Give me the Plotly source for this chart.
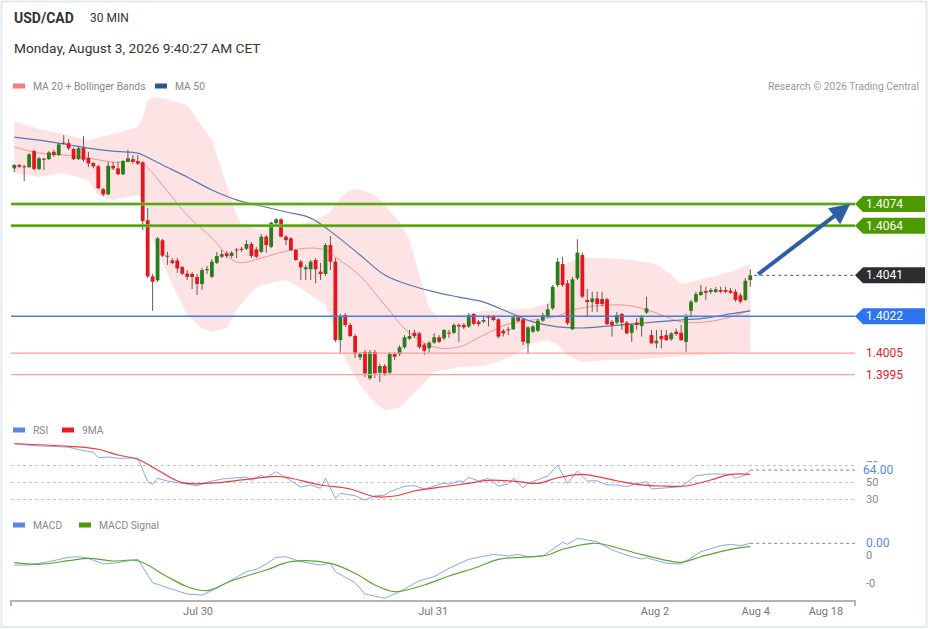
import plotly.graph_objects as go

W, H = 929, 629

# USD/CAD 30 min candles, oldest first
open_ = [1.40905, 1.40921, 1.40913, 1.40911, 1.40985, 1.40902, 1.40950, 1.40948, 1.40982, 1.40967,
         1.41022, 1.41022, 1.40995, 1.40948, 1.40999, 1.40954, 1.40930, 1.40915, 1.40809, 1.40785,
         1.40917, 1.40905, 1.40878, 1.40936, 1.40948, 1.40939, 1.40933, 1.40665, 1.40405, 1.40387,
         1.40572, 1.40498, 1.40479, 1.40479, 1.40448, 1.40418, 1.40416, 1.40402, 1.40370, 1.40434,
         1.40403, 1.40468, 1.40496, 1.40512, 1.40499, 1.40527, 1.40530, 1.40533, 1.40555, 1.40530,
         1.40519, 1.40589, 1.40542, 1.40651, 1.40669, 1.40589, 1.40581, 1.40527, 1.40473, 1.40438,
         1.40438, 1.40481, 1.40427, 1.40416, 1.40550, 1.40473, 1.40110, 1.40226, 1.40180, 1.40129,
         1.40030, 1.40055, 1.39933, 1.40055, 1.39959, 1.39990, 1.39959, 1.40045, 1.40045, 1.40077,
         1.40116, 1.40144, 1.40141, 1.40089, 1.40072, 1.40098, 1.40123, 1.40118, 1.40143, 1.40144,
         1.40180, 1.40180, 1.40173, 1.40231, 1.40195, 1.40195, 1.40215, 1.40221, 1.40206, 1.40153,
         1.40157, 1.40160, 1.40215, 1.40206, 1.40095, 1.40149, 1.40153, 1.40200, 1.40221, 1.40257,
         1.40365, 1.40462, 1.40373, 1.40160, 1.40396, 1.40504, 1.40296, 1.40286, 1.40303, 1.40300,
         1.40299, 1.40195, 1.40191, 1.40231, 1.40191, 1.40144, 1.40191, 1.40175, 1.40237, 1.40133,
         1.40095, 1.40129, 1.40133, 1.40114, 1.40149, 1.40144, 1.40102, 1.40246, 1.40288, 1.40319,
         1.40337, 1.40333, 1.40333, 1.40342, 1.40342, 1.40339, 1.40334, 1.40317, 1.40296, 1.40388]
high = [1.40925, 1.40925, 1.40921, 1.40976, 1.40991, 1.40958, 1.40953, 1.40985, 1.40991, 1.41022,
        1.41059, 1.41041, 1.41001, 1.41005, 1.41055, 1.40982, 1.40934, 1.40921, 1.40814, 1.40936,
        1.40936, 1.40936, 1.40944, 1.40991, 1.40967, 1.40967, 1.40939, 1.40721, 1.40416, 1.40587,
        1.40578, 1.40519, 1.40490, 1.40490, 1.40453, 1.40434, 1.40425, 1.40416, 1.40444, 1.40453,
        1.40485, 1.40518, 1.40527, 1.40522, 1.40522, 1.40536, 1.40541, 1.40573, 1.40564, 1.40541,
        1.40601, 1.40596, 1.40658, 1.40674, 1.40674, 1.40596, 1.40587, 1.40532, 1.40481, 1.40458,
        1.40481, 1.40490, 1.40467, 1.40559, 1.40592, 1.40490, 1.40231, 1.40235, 1.40189, 1.40138,
        1.40055, 1.40064, 1.40064, 1.40064, 1.39999, 1.39999, 1.40055, 1.40055, 1.40087, 1.40133,
        1.40157, 1.40157, 1.40147, 1.40096, 1.40105, 1.40142, 1.40133, 1.40160, 1.40157, 1.40188,
        1.40188, 1.40189, 1.40234, 1.40234, 1.40203, 1.40221, 1.40226, 1.40226, 1.40212, 1.40161,
        1.40172, 1.40221, 1.40226, 1.40212, 1.40175, 1.40180, 1.40208, 1.40237, 1.40277, 1.40365,
        1.40490, 1.40496, 1.40388, 1.40402, 1.40577, 1.40515, 1.40346, 1.40334, 1.40334, 1.40334,
        1.40305, 1.40203, 1.40241, 1.40235, 1.40198, 1.40189, 1.40211, 1.40226, 1.40311, 1.40157,
        1.40157, 1.40157, 1.40157, 1.40147, 1.40164, 1.40180, 1.40231, 1.40296, 1.40334, 1.40365,
        1.40357, 1.40351, 1.40356, 1.40357, 1.40357, 1.40351, 1.40346, 1.40328, 1.40397, 1.40438]
low = [1.40887, 1.40907, 1.40846, 1.40907, 1.40897, 1.40897, 1.40897, 1.40944, 1.40958, 1.40962,
       1.41016, 1.40990, 1.40944, 1.40944, 1.40936, 1.40911, 1.40905, 1.40809, 1.40776, 1.40782,
       1.40897, 1.40874, 1.40874, 1.40934, 1.40927, 1.40921, 1.40620, 1.40397, 1.40245, 1.40379,
       1.40495, 1.40458, 1.40462, 1.40421, 1.40411, 1.40388, 1.40346, 1.40319, 1.40342, 1.40416,
       1.40397, 1.40462, 1.40490, 1.40490, 1.40490, 1.40490, 1.40518, 1.40527, 1.40490, 1.40490,
       1.40513, 1.40515, 1.40536, 1.40643, 1.40587, 1.40550, 1.40522, 1.40476, 1.40388, 1.40388,
       1.40388, 1.40374, 1.40388, 1.40407, 1.40434, 1.40101, 1.40045, 1.40171, 1.40124, 1.40027,
       1.40018, 1.39940, 1.39925, 1.39934, 1.39917, 1.39944, 1.39953, 1.40018, 1.40036, 1.40069,
       1.40110, 1.40120, 1.40069, 1.40041, 1.40052, 1.40092, 1.40096, 1.40110, 1.40120, 1.40138,
       1.40102, 1.40161, 1.40166, 1.40178, 1.40173, 1.40189, 1.40173, 1.40198, 1.40118, 1.40126,
       1.40133, 1.40157, 1.40194, 1.40087, 1.40045, 1.40143, 1.40147, 1.40194, 1.40212, 1.40249,
       1.40356, 1.40356, 1.40180, 1.40157, 1.40388, 1.40305, 1.40221, 1.40241, 1.40241, 1.40265,
       1.40180, 1.40126, 1.40184, 1.40157, 1.40138, 1.40102, 1.40157, 1.40126, 1.40231, 1.40092,
       1.40072, 1.40072, 1.40106, 1.40106, 1.40129, 1.40106, 1.40056, 1.40215, 1.40282, 1.40314,
       1.40296, 1.40324, 1.40328, 1.40327, 1.40327, 1.40324, 1.40288, 1.40280, 1.40291, 1.40357]
close = [1.40921, 1.40913, 1.40910, 1.40970, 1.40902, 1.40952, 1.40945, 1.40979, 1.40967, 1.41016,
         1.41019, 1.40998, 1.40948, 1.40998, 1.40945, 1.40928, 1.40915, 1.40813, 1.40785, 1.40917,
         1.40905, 1.40878, 1.40939, 1.40952, 1.40936, 1.40927, 1.40661, 1.40405, 1.40380, 1.40581,
         1.40501, 1.40496, 1.40467, 1.40442, 1.40417, 1.40403, 1.40402, 1.40370, 1.40434, 1.40437,
         1.40473, 1.40499, 1.40508, 1.40499, 1.40515, 1.40525, 1.40528, 1.40555, 1.40499, 1.40496,
         1.40589, 1.40550, 1.40653, 1.40669, 1.40589, 1.40573, 1.40527, 1.40481, 1.40447, 1.40447,
         1.40473, 1.40438, 1.40416, 1.40550, 1.40473, 1.40110, 1.40218, 1.40180, 1.40129, 1.40045,
         1.40045, 1.39956, 1.40055, 1.39956, 1.39990, 1.39956, 1.40045, 1.40033, 1.40077, 1.40123,
         1.40129, 1.40129, 1.40077, 1.40061, 1.40098, 1.40123, 1.40102, 1.40157, 1.40140, 1.40180,
         1.40173, 1.40169, 1.40226, 1.40185, 1.40184, 1.40203, 1.40213, 1.40203, 1.40126, 1.40141,
         1.40155, 1.40215, 1.40199, 1.40102, 1.40169, 1.40173, 1.40200, 1.40226, 1.40252, 1.40357,
         1.40473, 1.40365, 1.40188, 1.40391, 1.40515, 1.40311, 1.40286, 1.40303, 1.40277, 1.40277,
         1.40184, 1.40180, 1.40226, 1.40191, 1.40141, 1.40180, 1.40180, 1.40215, 1.40257, 1.40095,
         1.40107, 1.40114, 1.40110, 1.40141, 1.40138, 1.40110, 1.40221, 1.40288, 1.40323, 1.40334,
         1.40329, 1.40342, 1.40345, 1.40334, 1.40334, 1.40329, 1.40296, 1.40288, 1.40385, 1.40410]

# overlays, read at sampled candle positions
bb_up_idx = [0, 5, 10, 15, 20, 25, 26, 27, 28, 30, 35, 40, 42, 44, 45, 46, 50, 55, 60, 63, 64, 65, 66,
             68, 70, 73, 75, 78, 80, 82, 84, 86, 90, 95, 100, 105, 108, 110, 112, 115, 120, 125, 130,
             133, 135, 137, 140, 145, 149]
bb_up = [1.41124, 1.41087, 1.41064, 1.41036, 1.41064, 1.41097, 1.41138, 1.41222, 1.41235, 1.41231,
         1.41198, 1.41036, 1.40897, 1.40759, 1.40689, 1.40643, 1.40620, 1.40634, 1.40657, 1.40689,
         1.40703, 1.40735, 1.40768, 1.40805, 1.40809, 1.40782, 1.40735, 1.40657, 1.40573, 1.40411,
         1.40258, 1.40212, 1.40226, 1.40245, 1.40249, 1.40258, 1.40282, 1.40365, 1.40471, 1.40490,
         1.40490, 1.40481, 1.40462, 1.40411, 1.40370, 1.40379, 1.40397, 1.40425, 1.40462]
bb_lo_idx = [0, 5, 10, 15, 17, 20, 25, 26, 27, 28, 30, 32, 35, 38, 40, 43, 45, 48, 50, 55, 58, 60,
             63, 65, 67, 70, 73, 75, 78, 80, 83, 85, 90, 95, 100, 103, 105, 108, 110, 112, 115, 120,
             125, 130, 135, 140, 145, 149]
bb_lo = [1.40884, 1.40865, 1.40884, 1.40851, 1.40782, 1.40759, 1.40782, 1.40768, 1.40689, 1.40573,
         1.40471, 1.40365, 1.40226, 1.40166, 1.40147, 1.40166, 1.40249, 1.40333, 1.40365, 1.40388,
         1.40351, 1.40319, 1.40272, 1.40157, 1.40018, 1.39902, 1.39819, 1.39786, 1.39795, 1.39842,
         1.39911, 1.39962, 1.39985, 1.39990, 1.40027, 1.40064, 1.40096, 1.40110, 1.40087, 1.40041,
         1.40008, 1.40018, 1.40018, 1.40027, 1.40036, 1.40041, 1.40050, 1.40055]
ma20_idx = [0, 5, 10, 15, 20, 25, 27, 30, 35, 40, 45, 50, 55, 60, 63, 65, 70, 75, 80, 85, 90, 95,
            100, 105, 110, 113, 120, 125, 130, 135, 140, 145, 149]
ma20 = [1.41004, 1.40976, 1.40967, 1.40953, 1.40934, 1.40934, 1.40907, 1.40828, 1.40689, 1.40583,
        1.40471, 1.40490, 1.40522, 1.40536, 1.40527, 1.40495, 1.40407, 1.40272, 1.40143, 1.40078,
        1.40078, 1.40133, 1.40184, 1.40203, 1.40221, 1.40249, 1.40272, 1.40268, 1.40235, 1.40194,
        1.40194, 1.40217, 1.40249]
ma50_idx = [0, 5, 10, 15, 20, 25, 26, 30, 35, 40, 45, 50, 55, 60, 65, 70, 75, 80, 85, 90, 95, 100,
            105, 110, 115, 120, 125, 130, 135, 140, 145, 149]
ma50 = [1.41050, 1.41036, 1.41018, 1.40999, 1.40985, 1.40976, 1.40967, 1.40921, 1.40865, 1.40805,
        1.40759, 1.40731, 1.40703, 1.40675, 1.40596, 1.40504, 1.40411, 1.40365, 1.40333, 1.40309,
        1.40286, 1.40240, 1.40194, 1.40171, 1.40166, 1.40175, 1.40184, 1.40194, 1.40203, 1.40212,
        1.40231, 1.40245]

rsi_idx = [0, 4, 11, 13, 16, 17, 19, 21, 25, 27, 28, 29, 31, 35, 37, 39, 42, 47, 48, 50, 51, 53, 55,
           58, 60, 62, 63, 65, 66, 69, 71, 73, 75, 76, 79, 81, 83, 85, 87, 88, 90, 91, 92, 94, 96,
           98, 100, 101, 103, 104, 106, 108, 110, 112, 114, 116, 118, 120, 122, 124, 126, 128, 129,
           132, 135, 138, 141, 143, 145, 146, 148, 149]
rsi = [95, 92.7, 91, 88, 85, 78.6, 79.4, 77.9, 78, 50.4, 47.3, 54.3, 51.2, 48, 45.6, 49.6, 53.5,
       55.9, 52, 58.2, 55, 62.1, 55, 44.1, 46.5, 42.6, 54.4, 30.8, 36.7, 33.9, 28.8, 33.5, 34.7,
       38.6, 45, 45.6, 41.8, 45.3, 48.8, 47.3, 51.2, 50.4, 55.5, 51.2, 54.4, 45.3, 47.6, 54.4, 43.3,
       48.4, 53.2, 57.1, 70, 48.4, 62.9, 51.2, 51.5, 46.5, 46.5, 44.5, 48, 50.4, 41.8, 43.3, 44.5,
       57.4, 59.4, 59.4, 59, 54.4, 58.2, 64]
rsi_ma_idx = [0, 11, 17, 21, 25, 29, 34, 41, 46, 53, 56, 62, 68, 73, 77, 81, 88, 92, 96, 102, 106,
              110, 115, 117, 122, 126, 131, 136, 141, 145, 149]
rsi_ma = [95, 92, 88.5, 81.8, 76.7, 64.1, 49.2, 49.2, 52.4, 56.7, 54.4, 46.5, 41.8, 32.7, 33.5, 39.4,
          45.3, 48.4, 52, 50.4, 48.4, 55, 59, 57.4, 51.5, 47.3, 45.3, 45.3, 52.4, 59, 59]

macd_idx = [0, 3, 7, 11, 13, 15, 18, 21, 25, 28, 32, 35, 38, 41, 44, 47, 49, 51, 53, 55, 58, 62, 64,
            65, 69, 71, 75, 78, 82, 85, 88, 92, 97, 100, 102, 104, 107, 108, 111, 112, 114, 118, 121,
            125, 127, 128, 132, 135, 139, 143, 145, 147, 149]
macd = [-0.000357, -0.000357, -0.000239, -0.000082, -0.000061, -0.000118, -0.000321, -0.000275,
        -0.000154, -0.000989, -0.001225, -0.001393, -0.001429, -0.001189, -0.000893, -0.000596,
        -0.000511, -0.000321, -0.000082, -0.000061, -0.000239, -0.000357, -0.000296, -0.000596,
        -0.000989, -0.001393, -0.001546, -0.001311, -0.000918, -0.000775, -0.000475, -0.000154,
        0.000025, -0.000036, 0.000025, -0.000061, -0.000036, 0.000082, 0.000454, 0.000382, 0.000596,
        0.000475, 0.000179, -0.000061, -0.000143, -0.000096, -0.000296, -0.000321, 0.000118,
        0.000332, 0.000382, 0.000332, 0.000418]
signal_idx = [0, 5, 11, 15, 20, 25, 31, 35, 39, 44, 51, 56, 64, 69, 73, 77, 83, 88, 94, 98, 105,
              108, 111, 117, 119, 126, 131, 135, 139, 145, 149]
signal = [-0.000275, -0.000332, -0.000204, -0.000118, -0.000214, -0.000204, -0.000775, -0.001132,
          -0.001275, -0.000918, -0.000536, -0.000239, -0.000296, -0.000654, -0.001071, -0.001311,
          -0.001071, -0.00075, -0.000418, -0.000154, -0.000061, 0.0, 0.000204, 0.000418, 0.000393,
          0.000061, -0.000154, -0.000261, -0.000061, 0.000204, 0.000296]

resistances = [1.4074, 1.4064]
pivot = 1.4022
supports = [1.4005, 1.3995]

tick_pos = [37.2, 84.8, 129.7, 150.1, 164.3]
tick_text = ["Jul 30", "Jul 31", "Aug 2", "Aug 4", "Aug 18"]


def px(x):
    return x / W


def py(y):
    return 1 - y / H


idx = list(range(len(close)))

wick_x, wick_y = [], []
for i, h, l in zip(idx, high, low):
    wick_x += [i, i, None]
    wick_y += [l, h, None]


def bodies(rising):
    xs, ys = [], []
    for i, o, c in zip(idx, open_, close):
        if (c >= o) != rising:
            continue
        lo = min(o, c)
        hi = max(max(o, c), lo + 0.00005)  # keep dojis visible
        xs += [i, i, None]
        ys += [lo, hi, None]
    return xs, ys


fig = go.Figure()

# bollinger band
fig.add_trace(go.Scatter(x=bb_up_idx + bb_lo_idx[::-1], y=bb_up + bb_lo[::-1], fill="toself",
                         fillcolor="#fde3e3", line=dict(width=0), mode="lines", hoverinfo="skip"))
fig.add_trace(go.Scatter(x=ma20_idx, y=ma20, mode="lines", line=dict(color="#f59494", width=1),
                         line_shape="spline"))
fig.add_trace(go.Scatter(x=ma50_idx, y=ma50, mode="lines", line=dict(color="#5878b0", width=1.2),
                         line_shape="spline"))

# wicks, then bodies on top
fig.add_trace(go.Scatter(x=wick_x, y=wick_y, mode="lines", line=dict(color="#655a5a", width=1),
                         hoverinfo="skip"))
gx, gy = bodies(True)
rx, ry = bodies(False)
fig.add_trace(go.Scatter(x=gx, y=gy, mode="lines", line=dict(color="#2a7d1c", width=3.8)))
fig.add_trace(go.Scatter(x=rx, y=ry, mode="lines", line=dict(color="#e5161d", width=3.8)))

# RSI panel
fig.add_trace(go.Scatter(x=rsi_idx, y=rsi, yaxis="y2", mode="lines",
                         line=dict(color="#88a6ee", width=1)))
fig.add_trace(go.Scatter(x=rsi_ma_idx, y=rsi_ma, yaxis="y2", mode="lines",
                         line=dict(color="#f03a3a", width=1.2), line_shape="spline"))

# MACD panel
fig.add_trace(go.Scatter(x=macd_idx, y=macd, yaxis="y3", mode="lines",
                         line=dict(color="#88a6ee", width=1)))
fig.add_trace(go.Scatter(x=signal_idx, y=signal, yaxis="y3", mode="lines",
                         line=dict(color="#5ca42e", width=1.2), line_shape="spline"))

shapes = []
annotations = []

# horizontal levels
for lvl in resistances:
    shapes.append(dict(type="line", xref="x domain", yref="y", x0=0, x1=1, y0=lvl, y1=lvl,
                       line=dict(color="#8cc65c", width=3)))
    shapes.append(dict(type="line", xref="x domain", yref="y", x0=0, x1=1, y0=lvl, y1=lvl,
                       line=dict(color="#4c9a00", width=1.6)))
shapes.append(dict(type="line", xref="x domain", yref="y", x0=0, x1=1, y0=pivot, y1=pivot,
                   line=dict(color="#3f7fea", width=1.5)))
for lvl in supports:
    shapes.append(dict(type="line", xref="x domain", yref="y", x0=0, x1=1, y0=lvl, y1=lvl,
                       line=dict(color="#f5a3a3", width=1.3)))

last = close[-1]
shapes.append(dict(type="line", xref="x", yref="y", x0=idx[-1] + 0.8, x1=170.2, y0=last, y1=last,
                   line=dict(color="#555555", width=1, dash="dot")))
shapes.append(dict(type="line", xref="x", yref="y2", x0=rsi_idx[-1], x1=170.2, y0=rsi[-1], y1=rsi[-1],
                   line=dict(color="#5b86e5", width=1, dash="dot")))
shapes.append(dict(type="line", xref="x", yref="y3", x0=macd_idx[-1], x1=170.2, y0=macd[-1], y1=macd[-1],
                   line=dict(color="#5b86e5", width=1, dash="dot")))


def tag(level, color):
    shapes.append(dict(type="path", xref="paper", yref="y", xsizemode="pixel", ysizemode="pixel",
                       xanchor=px(855), yanchor=level, path="M0,0 L8,8 L70,8 L70,-8 L8,-8 Z",
                       fillcolor=color, line=dict(width=0)))
    annotations.append(dict(x=px(864), y=level, xref="paper", yref="y", xanchor="left",
                            yanchor="middle", text=f"{level:.4f}", showarrow=False,
                            font=dict(color="white", size=12)))


for lvl in resistances:
    tag(lvl, "#4c9a00")
tag(round(last, 4), "#2e2e2e")
tag(pivot, "#2f74ee")
for lvl in supports:
    annotations.append(dict(x=px(864), y=lvl, xref="paper", yref="y", xanchor="left", yanchor="middle",
                            text=f"{lvl:.4f}", showarrow=False, font=dict(color="#e8202a", size=12)))

# target arrow
annotations.append(dict(x=169.2, y=resistances[0], ax=150.3, ay=last, xref="x", yref="y",
                        axref="x", ayref="y", showarrow=True, arrowhead=2, arrowsize=1,
                        arrowwidth=4, arrowcolor="#2e5fa6", text=""))

# RSI labels (the current value tag sits over the 70 label, as in the original)
for v in [70, 50, 30]:
    annotations.append(dict(x=px(864), y=v, xref="paper", yref="y2", xanchor="left", yanchor="middle",
                            text=str(v), showarrow=False, font=dict(color="#888", size=11)))
annotations.append(dict(x=px(862), y=rsi[-1], xref="paper", yref="y2", xanchor="left",
                        yanchor="middle", text=f"{rsi[-1]:.2f}", showarrow=False, bgcolor="white",
                        borderpad=0, font=dict(color="#5b86e5", size=12)))

# MACD labels
annotations.append(dict(x=px(864), y=0, xref="paper", yref="y3", xanchor="left", yanchor="middle",
                        text="0", showarrow=False, font=dict(color="#888", size=11)))
annotations.append(dict(x=px(864), y=-0.001, xref="paper", yref="y3", xanchor="left",
                        yanchor="middle", text="-0", showarrow=False, font=dict(color="#888", size=11)))
annotations.append(dict(x=px(864), y=macd[-1], xref="paper", yref="y3", xanchor="left",
                        yanchor="middle", text=f"{macd[-1]:.2f}", showarrow=False,
                        font=dict(color="#5b86e5", size=12)))

# headers and legends
annotations += [
    dict(x=px(12), y=py(18), xref="paper", yref="paper", xanchor="left", yanchor="middle",
         showarrow=False, text="<b>USD/CAD</b>", font=dict(size=14, color="#333")),
    dict(x=px(88), y=py(18), xref="paper", yref="paper", xanchor="left", yanchor="middle",
         showarrow=False, text="30 MIN", font=dict(size=12, color="#333")),
    dict(x=px(12), y=py(48), xref="paper", yref="paper", xanchor="left", yanchor="middle",
         showarrow=False, text="Monday, August 3, 2026 9:40:27 AM CET",
         font=dict(size=13.7, color="#333")),
    dict(x=px(921), y=py(86), xref="paper", yref="paper", xanchor="right", yanchor="middle",
         showarrow=False, text="Research © 2026 Trading Central", font=dict(size=10.3, color="#999")),
]
legend_items = [
    (13, 86, "#f47c7c", "MA 20 + Bollinger Bands"), (155, 86, "#2f5597", "MA 50"),
    (13, 430, "#5b86e5", "RSI"), (62, 430, "#e81d1d", "9MA"),
    (13, 525, "#5b86e5", "MACD"), (79, 525, "#4c9a00", "MACD Signal"),
]
for x0, y0, col, label in legend_items:
    shapes.append(dict(type="rect", xref="paper", yref="paper", x0=px(x0), x1=px(x0 + 12),
                       y0=py(y0 + 2.5), y1=py(y0 - 2.5), fillcolor=col, line=dict(width=0)))
    annotations.append(dict(x=px(x0 + 18), y=py(y0), xref="paper", yref="paper", xanchor="left",
                            yanchor="middle", showarrow=False, text=label,
                            font=dict(size=10.3, color="#888")))

# axis end ticks and frame
for xe in (11, 855):
    shapes.append(dict(type="line", xref="paper", yref="paper", x0=px(xe), x1=px(xe),
                       y0=py(600), y1=py(606), line=dict(color="#b3b3b3", width=2)))
shapes.append(dict(type="rect", xref="paper", yref="paper", x0=px(1.5), x1=px(926.5),
                   y0=py(627), y1=py(1.5), line=dict(color="#e4eaee", width=2)))

fig.update_layout(
    width=W, height=H, margin=dict(l=0, r=0, t=0, b=0),
    paper_bgcolor="white", plot_bgcolor="white", showlegend=False,
    font=dict(family="Roboto, Arial, sans-serif", color="#555"),
    xaxis=dict(domain=[px(11), px(855)], range=[-0.67, 170.2], anchor="y3", showgrid=False,
               zeroline=False, showline=True, linecolor="#b3b3b3", linewidth=2, ticks="",
               tickvals=tick_pos, ticktext=tick_text, tickfont=dict(size=11, color="#777")),
    yaxis=dict(domain=[py(415), py(95)], range=[1.39763, 1.41245], anchor="x", visible=False),
    yaxis2=dict(domain=[py(510), py(425)], range=[17.06, 117.06], anchor="x", showgrid=True,
                gridcolor="#c4c4c4", griddash="dot", tickvals=[30, 50, 70], showticklabels=False,
                zeroline=False, showline=False),
    yaxis3=dict(domain=[py(600), py(520)], range=[-0.001607, 0.00125], anchor="x", visible=False),
    shapes=shapes, annotations=annotations,
)

fig.write_html("out.html", config={"displayModeBar": False},
               post_script="document.body.style.margin = '0';")
